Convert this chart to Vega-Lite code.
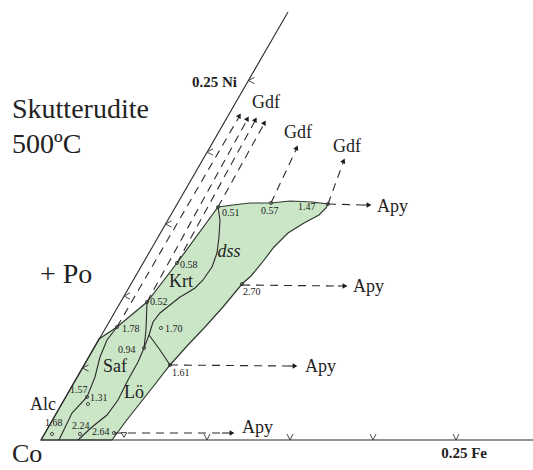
{
 "$schema": "https://vega.github.io/schema/vega-lite/v6.json",
 "width": 533, "height": 470, "padding": 0, "autosize": {"type": "none"},
 "background": "white",
 "config": {"view": {"stroke": null}},
 "encoding": {
  "x": {"field": "x", "type": "quantitative", "scale": {"domain": [0, 533], "nice": false, "zero": false}, "axis": null},
  "y": {"field": "y", "type": "quantitative", "scale": {"domain": [0, 470], "nice": false, "zero": false, "reverse": true}, "axis": null}
 },
 "datasets": {
  "poly": [
   {"x": 41, "y": 440}, {"x": 99, "y": 339}, {"x": 117, "y": 327}, {"x": 147, "y": 302}, {"x": 177, "y": 263},
   {"x": 218, "y": 207}, {"x": 233, "y": 205}, {"x": 250, "y": 203}, {"x": 271, "y": 203}, {"x": 290, "y": 201},
   {"x": 312, "y": 202}, {"x": 328, "y": 204}, {"x": 326, "y": 208}, {"x": 319, "y": 215}, {"x": 304, "y": 223},
   {"x": 288, "y": 233}, {"x": 274, "y": 247}, {"x": 261, "y": 264}, {"x": 251, "y": 276}, {"x": 242, "y": 284},
   {"x": 223, "y": 307}, {"x": 205, "y": 327}, {"x": 187, "y": 346}, {"x": 170, "y": 365}, {"x": 156, "y": 383},
   {"x": 141, "y": 402}, {"x": 126, "y": 421}, {"x": 112, "y": 440}
  ],
  "solid": [
   {"id": "ni", "x": 41, "y": 440}, {"id": "ni", "x": 288, "y": 12},
   {"id": "fe", "x": 41, "y": 440}, {"id": "fe", "x": 533, "y": 440},
   {"id": "alcsaf", "x": 59, "y": 440}, {"id": "alcsaf", "x": 72, "y": 413}, {"id": "alcsaf", "x": 87, "y": 397}, {"id": "alcsaf", "x": 95, "y": 377}, {"id": "alcsaf", "x": 100, "y": 357}, {"id": "alcsaf", "x": 107, "y": 340}, {"id": "alcsaf", "x": 117, "y": 327},
   {"id": "saflo", "x": 78, "y": 440}, {"id": "saflo", "x": 92, "y": 427}, {"id": "saflo", "x": 107, "y": 415}, {"id": "saflo", "x": 118, "y": 400}, {"id": "saflo", "x": 128, "y": 380}, {"id": "saflo", "x": 138, "y": 362}, {"id": "saflo", "x": 144, "y": 348}, {"id": "saflo", "x": 149, "y": 335},
   {"id": "v052", "x": 147, "y": 302}, {"id": "v052", "x": 146, "y": 330}, {"id": "v052", "x": 144, "y": 348},
   {"id": "krtdss", "x": 218, "y": 207}, {"id": "krtdss", "x": 220, "y": 220}, {"id": "krtdss", "x": 219, "y": 237}, {"id": "krtdss", "x": 217, "y": 253}, {"id": "krtdss", "x": 212, "y": 267}, {"id": "krtdss", "x": 203, "y": 280}, {"id": "krtdss", "x": 195, "y": 288}, {"id": "krtdss", "x": 187, "y": 293}, {"id": "krtdss", "x": 180, "y": 297}, {"id": "krtdss", "x": 170, "y": 305}, {"id": "krtdss", "x": 160, "y": 313}, {"id": "krtdss", "x": 153, "y": 322}, {"id": "krtdss", "x": 149, "y": 335},
   {"id": "lodss", "x": 149, "y": 335}, {"id": "lodss", "x": 160, "y": 350}, {"id": "lodss", "x": 170, "y": 365},
   {"id": "h1", "x": 362, "y": 205}, {"id": "h1", "x": 370, "y": 205},
   {"id": "h2", "x": 338, "y": 286}, {"id": "h2", "x": 346, "y": 286},
   {"id": "h3", "x": 288, "y": 366}, {"id": "h3", "x": 296, "y": 366},
   {"id": "h4", "x": 222, "y": 433}, {"id": "h4", "x": 233, "y": 433}
  ],
  "dashed": [
   {"id": "d1", "x": 117, "y": 327}, {"id": "d1", "x": 239, "y": 117},
   {"id": "d2", "x": 147, "y": 302}, {"id": "d2", "x": 247, "y": 120},
   {"id": "d3", "x": 177, "y": 263}, {"id": "d3", "x": 255, "y": 121},
   {"id": "d4", "x": 218, "y": 207}, {"id": "d4", "x": 264, "y": 124},
   {"id": "g1", "x": 271, "y": 203}, {"id": "g1", "x": 296, "y": 150},
   {"id": "g2", "x": 328, "y": 204}, {"id": "g2", "x": 343, "y": 163},
   {"id": "a1", "x": 328, "y": 204}, {"id": "a1", "x": 362, "y": 205},
   {"id": "a2", "x": 242, "y": 285}, {"id": "a2", "x": 338, "y": 286},
   {"id": "a3", "x": 170, "y": 365}, {"id": "a3", "x": 288, "y": 366},
   {"id": "a4", "x": 114, "y": 433}, {"id": "a4", "x": 222, "y": 433}
  ],
  "arrowApy": [{"x": 369, "y": 205}, {"x": 345, "y": 286}, {"x": 295, "y": 366}, {"x": 232, "y": 433}],
  "arrowNi": [{"x": 239.5, "y": 115.6}, {"x": 247.5, "y": 118.6}, {"x": 255.5, "y": 119.6}, {"x": 264.5, "y": 122.6}],
  "arrowGdf": [{"x": 296.7, "y": 147.7}, {"x": 343.7, "y": 160.7}],
  "circles": [
   {"x": 218, "y": 207}, {"x": 271, "y": 203}, {"x": 328, "y": 204}, {"x": 177, "y": 263}, {"x": 242, "y": 284},
   {"x": 147, "y": 302}, {"x": 117, "y": 327}, {"x": 161, "y": 328}, {"x": 144, "y": 348}, {"x": 170, "y": 365},
   {"x": 87, "y": 397}, {"x": 88, "y": 404}, {"x": 52, "y": 434}, {"x": 80, "y": 434}, {"x": 114, "y": 433}
  ],
  "niTicks": [{"x": 82.5, "y": 368}, {"x": 124, "y": 296}, {"x": 165.5, "y": 224}, {"x": 207, "y": 152}, {"x": 248.5, "y": 80.5}],
  "feTicks": [{"x": 207, "y": 440}, {"x": 290, "y": 440}, {"x": 373, "y": 440}, {"x": 456, "y": 440}],
  "triangle": [{"x": 124, "y": 435}],
  "title": [{"x": 12, "y": 118, "t": "Skutterudite"}, {"x": 12, "y": 153, "t": "500ºC"}, {"x": 40, "y": 283, "t": "+ Po"}],
  "corner": [{"x": 12, "y": 462, "t": "Co"}],
  "axisLabels": [{"x": 237, "y": 87, "t": "0.25 Ni"}, {"x": 487, "y": 458, "t": "0.25 Fe"}],
  "regions": [{"x": 115, "y": 367, "t": "Saf"}, {"x": 43, "y": 405, "t": "Alc"}, {"x": 134, "y": 393, "t": "Lö"}, {"x": 181, "y": 282, "t": "Krt"}],
  "italic": [{"x": 229, "y": 252, "t": "dss"}],
  "phases": [
   {"x": 377, "y": 207, "t": "Apy"}, {"x": 353, "y": 287, "t": "Apy"}, {"x": 305, "y": 367, "t": "Apy"}, {"x": 242, "y": 428, "t": "Apy"}
  ],
  "gdf": [{"x": 266, "y": 103, "t": "Gdf"}, {"x": 298, "y": 133, "t": "Gdf"}, {"x": 347, "y": 147, "t": "Gdf"}],
  "nums": [
   {"x": 222, "y": 213, "t": "0.51"}, {"x": 261, "y": 211, "t": "0.57"}, {"x": 298, "y": 207, "t": "1.47"},
   {"x": 180, "y": 265, "t": "0.58"}, {"x": 243, "y": 292, "t": "2.70"}, {"x": 150, "y": 302, "t": "0.52"},
   {"x": 122, "y": 329, "t": "1.78"}, {"x": 165, "y": 329, "t": "1.70"}, {"x": 118, "y": 350, "t": "0.94"},
   {"x": 172, "y": 373, "t": "1.61"}, {"x": 70, "y": 390, "t": "1.57"}, {"x": 90, "y": 398, "t": "1.31"},
   {"x": 45, "y": 423, "t": "1.68"}, {"x": 72, "y": 426, "t": "2.24"}, {"x": 92, "y": 432, "t": "2.64"}
  ]
 },
 "layer": [
  {"data": {"name": "poly"}, "mark": {"type": "line", "interpolate": "linear-closed", "fill": "#cbe5c7", "stroke": "#2f3a2f", "strokeWidth": 1.2}, "encoding": {"order": {"value": null}}},
  {"data": {"name": "solid"}, "mark": {"type": "line", "stroke": "#2b2b2b", "strokeWidth": 1.1}, "encoding": {"detail": {"field": "id"}, "order": {"value": null}}},
  {"data": {"name": "dashed"}, "mark": {"type": "line", "stroke": "#2b2b2b", "strokeWidth": 1.1, "strokeDash": [8, 6]}, "encoding": {"detail": {"field": "id"}, "order": {"value": null}}},
  {"data": {"name": "arrowApy"}, "mark": {"type": "point", "shape": "triangle-right", "filled": true, "color": "#1a1a1a", "size": 30, "opacity": 1}},
  {"data": {"name": "arrowNi"}, "mark": {"type": "point", "shape": "triangle-up", "filled": true, "color": "#1a1a1a", "size": 30, "angle": 30, "opacity": 1}},
  {"data": {"name": "arrowGdf"}, "mark": {"type": "point", "shape": "triangle-up", "filled": true, "color": "#1a1a1a", "size": 30, "angle": 25, "opacity": 1}},
  {"data": {"name": "circles"}, "mark": {"type": "point", "shape": "circle", "filled": false, "stroke": "#2b2b2b", "strokeWidth": 0.8, "size": 10, "opacity": 1}},
  {"data": {"name": "niTicks"}, "mark": {"type": "point", "shape": "M 3 -1.6 L 0 0 L 3 1.6", "filled": false, "stroke": "#333", "strokeWidth": 0.9, "size": 16, "opacity": 1}},
  {"data": {"name": "feTicks"}, "mark": {"type": "point", "shape": "M -1.5 -3 L 0 0 L 1.5 -3", "filled": false, "stroke": "#333", "strokeWidth": 0.9, "size": 16, "opacity": 1}},
  {"data": {"name": "triangle"}, "mark": {"type": "point", "shape": "triangle-down", "filled": false, "stroke": "#2b2b2b", "strokeWidth": 0.9, "size": 30, "opacity": 1}},
  {"data": {"name": "title"}, "mark": {"type": "text", "font": "Liberation Serif", "color": "#222", "fontSize": 28, "align": "left", "baseline": "alphabetic"}, "encoding": {"text": {"field": "t"}}},
  {"data": {"name": "corner"}, "mark": {"type": "text", "font": "Liberation Serif", "color": "#222", "fontSize": 26, "align": "left", "baseline": "alphabetic"}, "encoding": {"text": {"field": "t"}}},
  {"data": {"name": "axisLabels"}, "mark": {"type": "text", "font": "Liberation Serif", "color": "#222", "fontSize": 15, "fontWeight": "bold", "align": "right", "baseline": "alphabetic"}, "encoding": {"text": {"field": "t"}}},
  {"data": {"name": "regions"}, "mark": {"type": "text", "font": "Liberation Serif", "color": "#222", "fontSize": 18, "align": "center", "baseline": "middle"}, "encoding": {"text": {"field": "t"}}},
  {"data": {"name": "italic"}, "mark": {"type": "text", "font": "Liberation Serif", "color": "#222", "fontSize": 18, "fontStyle": "italic", "align": "center", "baseline": "middle"}, "encoding": {"text": {"field": "t"}}},
  {"data": {"name": "phases"}, "mark": {"type": "text", "font": "Liberation Serif", "color": "#222", "fontSize": 18, "align": "left", "baseline": "middle"}, "encoding": {"text": {"field": "t"}}},
  {"data": {"name": "gdf"}, "mark": {"type": "text", "font": "Liberation Serif", "color": "#222", "fontSize": 18, "align": "center", "baseline": "middle"}, "encoding": {"text": {"field": "t"}}},
  {"data": {"name": "nums"}, "mark": {"type": "text", "font": "Liberation Serif", "color": "#222", "fontSize": 10, "align": "left", "baseline": "middle"}, "encoding": {"text": {"field": "t"}}}
 ]
}
